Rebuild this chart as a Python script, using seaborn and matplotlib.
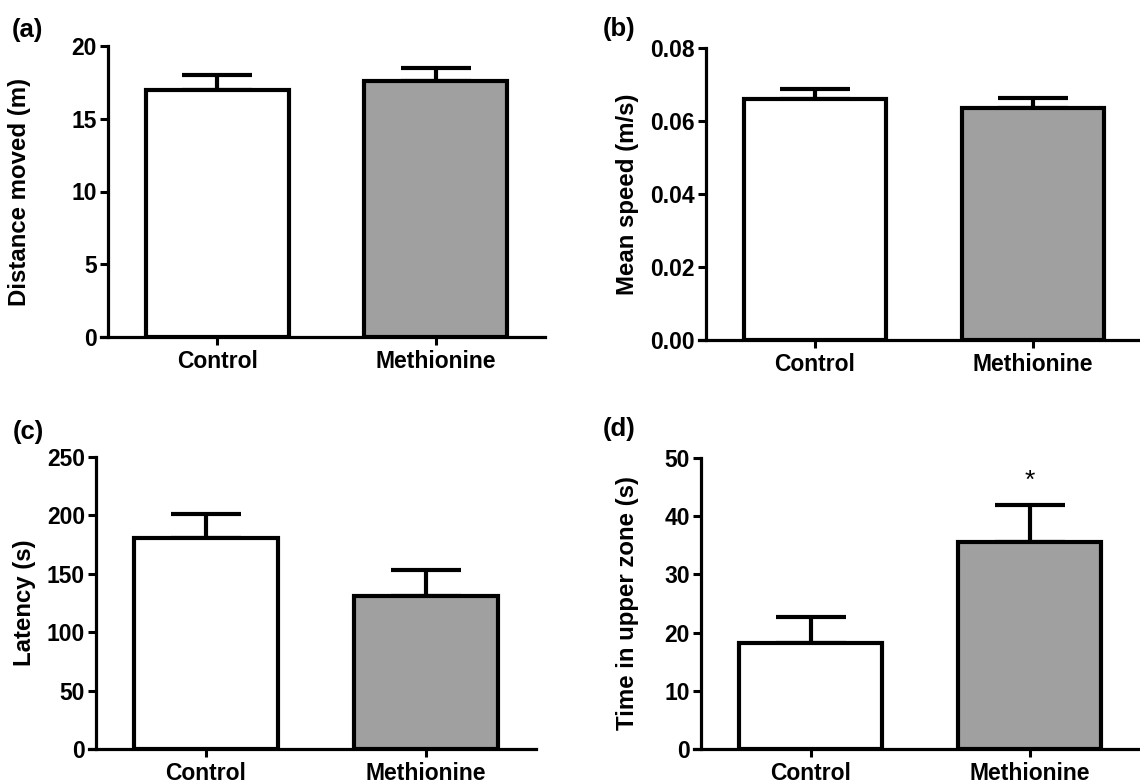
import matplotlib
matplotlib.use("Agg")
import matplotlib.pyplot as plt
import seaborn as sns
import pandas as pd
from matplotlib.ticker import FormatStrFormatter

# ---- data ----
groups = ["Control", "Methionine"]
dist_mean = [17.0, 17.6]
dist_sem = [1.0, 0.9]
speed_mean = [0.0660, 0.0636]
speed_sem = [0.0028, 0.0026]
lat_mean = [181, 131]
lat_sem = [20, 22]
upper_mean = [18.2, 35.5]
upper_sem = [4.5, 6.5]

panel_labels = ["(a)", "(b)", "(c)", "(d)"]
ylabels = ["Distance moved (m)", "Mean speed (m/s)", "Latency (s)", "Time in upper zone (s)"]
yticks_a = [0, 5, 10, 15, 20]
yticks_b = [0.00, 0.02, 0.04, 0.06, 0.08]
yticks_c = [0, 50, 100, 150, 200, 250]
yticks_d = [0, 10, 20, 30, 40, 50]
star_text = "*"
star_value = 46.0

sns.set_theme(style="ticks")
plt.rcParams["font.family"] = ["Liberation Sans", "DejaVu Sans"]
plt.rcParams["font.weight"] = "bold"
plt.rcParams["axes.labelweight"] = "bold"

W, H = 1140, 783
fig = plt.figure(figsize=(W / 100, H / 100), dpi=100)

EXT = 7  # px the x-axis line extends left of the y-axis


def px_axes(left, right, top, bottom):
    return fig.add_axes([left / W, 1 - bottom / H, (right - left) / W, (bottom - top) / H])


# axis boxes in pixel coords (y-axis line x, right end, top, bottom)
boxes = [
    (108, 545, 46, 337),
    (706, 1142, 48, 340),
    (96, 536, 457, 749),
    (701, 1139, 458, 749),
]
ylab_right_px = [31, 639, 36, 639]
panel_pos = [(12, 18), (603, 17), (13, 420), (603, 417)]

means_list = [dist_mean, speed_mean, lat_mean, upper_mean]
sem_list = [dist_sem, speed_sem, lat_sem, upper_sem]
ticks_list = [yticks_a, yticks_b, yticks_c, yticks_d]
colors = ["white", "#a0a0a0"]

for i in range(4):
    l, r, t, b = boxes[i]
    ax = px_axes(l - EXT, r, t, b)
    unit = (r - l) / 2.0  # px per category
    df = pd.DataFrame({"group": groups, "value": means_list[i]})
    sns.barplot(data=df, x="group", y="value", hue="group", palette=colors,
                edgecolor="black", linewidth=3.0, width=0.655, legend=False,
                ax=ax, zorder=3)
    ax.errorbar(x=[0, 1], y=means_list[i], yerr=[[0, 0], sem_list[i]], fmt="none",
                ecolor="black", elinewidth=3.0, capsize=25.5, capthick=3.0, zorder=2)
    ticks = ticks_list[i]
    ax.set_ylim(ticks[0], ticks[-1])
    ax.set_yticks(ticks)
    ax.set_xlim(-0.5 - EXT / unit, 1.5)
    ax.spines["left"].set_position(("data", -0.5))
    if i == 1:
        ax.yaxis.set_major_formatter(FormatStrFormatter("%.2f"))
    for s in ["top", "right"]:
        ax.spines[s].set_visible(False)
    for s in ["left", "bottom"]:
        ax.spines[s].set_linewidth(2.3)
        ax.spines[s].set_color("black")
        ax.spines[s].set_zorder(4)
    ax.tick_params(axis="y", length=5.5, width=2.2, pad=2.5, labelsize=16.5, colors="black")
    ax.tick_params(axis="x", length=5.5, width=2.2, pad=4, labelsize=16.5, colors="black")
    for lab in ax.get_xticklabels() + ax.get_yticklabels():
        lab.set_fontweight("bold")
    ax.set_xlabel("")
    ax.set_ylabel(ylabels[i], fontsize=17.3, fontweight="bold", color="black")
    ax.yaxis.set_label_coords((ylab_right_px[i] - (l - EXT)) / (r - l + EXT), 0.5)
    ax.set_facecolor("white")
    px, py = panel_pos[i]
    fig.text(px / W, 1 - py / H, panel_labels[i], fontsize=18.5, fontweight="bold",
             ha="left", va="top", color="black")
    if i == 3:
        ax.text(1, star_value, star_text, ha="center", va="center", fontsize=19,
                fontweight="normal", color="black")

fig.savefig("out.png", dpi=100, facecolor="white")
